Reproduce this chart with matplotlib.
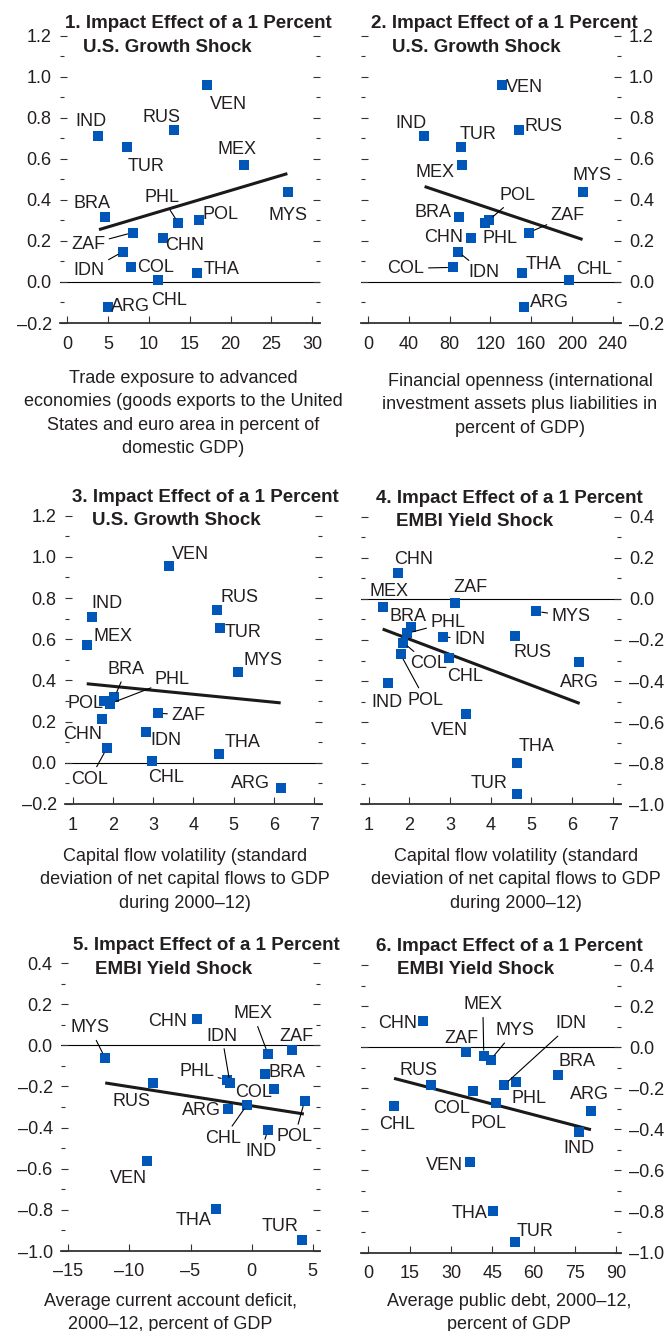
import numpy as np
import matplotlib
matplotlib.use("Agg")
import matplotlib.pyplot as plt
from matplotlib.ticker import MultipleLocator, FuncFormatter

plt.rcParams["font.family"] = ["Liberation Sans", "DejaVu Sans"]

TXT = "#231f20"
BLUE = "#0057b8"
W, H = 668, 1331
FS = 13

# ---- data ----
countries = ["ARG", "BRA", "CHL", "CHN", "COL", "IDN", "IND", "MEX",
             "MYS", "PHL", "POL", "RUS", "THA", "TUR", "VEN", "ZAF"]

growth_impact = [-0.120, 0.318, 0.011, 0.212, 0.071, 0.148, 0.710, 0.570,
                 0.439, 0.288, 0.300, 0.740, 0.043, 0.657, 0.958, 0.241]
embi_impact = [-0.309, -0.138, -0.288, 0.127, -0.213, -0.184, -0.411, -0.042,
               -0.061, -0.168, -0.270, -0.182, -0.798, -0.948, -0.561, -0.022]

trade_exposure = [4.97, 4.65, 11.13, 11.7, 7.83, 6.85, 3.75, 21.65,
                  27.0, 13.6, 16.2, 13.05, 15.94, 7.34, 17.1, 8.07]
fin_openness = [153, 88.7, 196.8, 100.5, 83.2, 88, 54.7, 92,
                210.5, 114.3, 118.2, 148, 151, 91, 131, 157.8]
cap_flow_vol = [6.18, 2.04, 2.97, 1.72, 1.85, 2.82, 1.47, 1.35,
                5.12, 1.94, 1.78, 4.59, 4.64, 4.65, 3.40, 3.11]
ca_deficit = [-1.96, 1.09, -0.35, -4.47, 1.83, -1.77, 1.34, 1.34,
              -12.0, -2.05, 4.34, -8.10, -2.95, 4.15, -8.59, 3.30]
public_debt = [80.8, 68.9, 9.3, 19.9, 38.0, 49.3, 76.5, 41.9,
               44.4, 53.6, 46.2, 22.8, 45.4, 53.1, 36.8, 35.5]

# fitted lines (end points)
fit1_x, fit1_y = [3.91, 26.95], [0.255, 0.528]
fit2_x, fit2_y = [55.3, 210.5], [0.465, 0.207]
fit3_x, fit3_y = [1.35, 6.17], [0.384, 0.291]
fit4_x, fit4_y = [1.34, 6.19], [-0.147, -0.509]
fit5_x, fit5_y = [-11.98, 4.28], [-0.183, -0.334]
fit6_x, fit6_y = [9.3, 80.8], [-0.152, -0.402]

xticks1 = [0, 5, 10, 15, 20, 25, 30]
xticks2 = [0, 40, 80, 120, 160, 200, 240]
xticks3 = [1, 2, 3, 4, 5, 6, 7]
xticks5 = [-15, -10, -5, 0, 5]
xticks6 = [0, 15, 30, 45, 60, 75, 90]

titles = [("1. Impact Effect of a 1 Percent", "U.S. Growth Shock"),
          ("2. Impact Effect of a 1 Percent", "U.S. Growth Shock"),
          ("3. Impact Effect of a 1 Percent", "U.S. Growth Shock"),
          ("4. Impact Effect of a 1 Percent", "EMBI Yield Shock"),
          ("5. Impact Effect of a 1 Percent", "EMBI Yield Shock"),
          ("6. Impact Effect of a 1 Percent", "EMBI Yield Shock")]

xlabels = [["Trade exposure to advanced",
            "economies (goods exports to the United",
            "States and euro area in percent of",
            "domestic GDP)"],
           ["Financial openness (international",
            "investment assets plus liabilities in",
            "percent of GDP)"],
           ["Capital flow volatility (standard",
            "deviation of net capital flows to GDP",
            "during 2000\u201312)"],
           ["Capital flow volatility (standard",
            "deviation of net capital flows to GDP",
            "during 2000\u201312)"],
           ["Average current account deficit,",
            "2000\u201312, percent of GDP"],
           ["Average public debt, 2000\u201312,",
            "percent of GDP"]]

# ---- label placement (pixel offsets from the marker) ----
off1 = {"IND": (-7, 15), "RUS": (-12, 13), "VEN": (22, -19), "TUR": (19, -19),
        "MEX": (-7, 15), "MYS": (0, -24), "BRA": (-13, 13), "PHL": (-16, 25),
        "POL": (21, 6), "ZAF": (-45, -12), "CHN": (22, -7), "IDN": (-34, -19),
        "COL": (25, 0), "THA": (24, 4), "CHL": (11, -21), "ARG": (23, 0)}
lead1 = {"PHL", "ZAF", "IDN"}
off2 = {"VEN": (23, -2), "RUS": (25, 4), "IND": (-13, 13), "TUR": (17, 13),
        "MEX": (-27, -8), "MYS": (9, 16), "BRA": (-26, 4), "POL": (29, 25),
        "PHL": (15, -16), "ZAF": (39, 17), "CHN": (-27, 1), "IDN": (26, -21),
        "COL": (-47, -1), "THA": (22, 9), "CHL": (25, 10), "ARG": (25, 4)}
lead2 = {"POL", "ZAF", "IDN", "COL"}
off3 = {"VEN": (21, 11), "RUS": (22, 13), "IND": (15, 13), "TUR": (24, -5),
        "MEX": (26, 9), "MYS": (25, 12), "BRA": (12, 28), "PHL": (62, 24),
        "POL": (-19, -2), "CHN": (-19, -15), "ZAF": (31, -2), "IDN": (20, -8),
        "COL": (-17, -31), "CHL": (14, -17), "THA": (23, 11), "ARG": (-31, 4)}
lead3 = {"BRA", "PHL", "ZAF", "COL"}
off4 = {"CHN": (16, 13), "MEX": (6, 16), "ZAF": (16, 16), "MYS": (35, -5),
        "BRA": (-3, 11), "PHL": (41, 11), "IDN": (27, -3), "RUS": (18, -16),
        "COL": (25, -21), "POL": (25, -46), "CHL": (16, -18), "ARG": (0, -20),
        "IND": (-1, -19), "VEN": (-17, -16), "THA": (20, 16), "TUR": (-28, 10)}
lead4 = {"MYS", "PHL", "IDN", "COL", "POL"}
off5 = {"MYS": (-15, 30), "CHN": (-29, -2), "MEX": (-15, 40), "ZAF": (5, 13),
        "IDN": (-8, 47), "PHL": (-30, 8), "BRA": (22, 1), "COL": (-20, -3),
        "RUS": (-21, -19), "ARG": (-26, -2), "CHL": (-24, -34), "POL": (-10, -36),
        "IND": (-7, -22), "VEN": (-18, -18), "THA": (-22, -11), "TUR": (-22, 14)}
lead5 = {"MYS", "MEX", "IDN", "PHL", "CHL", "POL", "IND"}
off6 = {"CHN": (-26, -2), "ZAF": (-5, 13), "MEX": (-1, 51), "MYS": (24, 29),
        "IDN": (67, 61), "BRA": (19, 14), "RUS": (-13, 14), "PHL": (13, -17),
        "COL": (-22, -18), "POL": (-7, -21), "CHL": (3, -18), "ARG": (-1, 16),
        "IND": (0, -17), "VEN": (-25, -3), "THA": (-24, -2), "TUR": (20, 10)}
lead6 = {"MEX", "MYS", "IDN"}

panels = [
    dict(x=trade_exposure, y=growth_impact, fx=fit1_x, fy=fit1_y, xt=xticks1,
         rect=(60, 320, 35.7, 323), xlim=(-0.86, 30.94), ylim=(-0.2, 1.2),
         side="left", off=off1, lead=lead1, tpos=(65, 28.5, 83, 52.5), xl=(183, 383)),
    dict(x=fin_openness, y=growth_impact, fx=fit2_x, fy=fit2_y, xt=xticks2,
         rect=(360.7, 620.7, 35.7, 323), xlim=(-7.5, 248), ylim=(-0.2, 1.2),
         side="right", off=off2, lead=lead2, tpos=(371, 28.5, 392, 52.5), xl=(520, 386)),
    dict(x=cap_flow_vol, y=growth_impact, fx=fit3_x, fy=fit3_y, xt=xticks3,
         rect=(65, 321.7, 515.7, 804), xlim=(0.81, 7.19), ylim=(-0.2, 1.2),
         side="left", off=off3, lead=lead3, tpos=(72, 501.7, 92, 525), xl=(185, 861)),
    dict(x=cap_flow_vol, y=embi_impact, fx=fit4_x, fy=fit4_y, xt=xticks3,
         rect=(360.7, 620.7, 516.7, 804.3), xlim=(0.8, 7.2), ylim=(-1.0, 0.4),
         side="right", off=off4, lead=lead4, tpos=(376, 502.7, 396, 526), xl=(516, 861)),
    dict(x=ca_deficit, y=embi_impact, fx=fit5_x, fy=fit5_y, xt=xticks5,
         rect=(61, 320, 963, 1251), xlim=(-15.6, 5.6), ylim=(-1.0, 0.4),
         side="left", off=off5, lead=lead5, tpos=(73, 950, 95, 974), xl=(170, 1306)),
    dict(x=public_debt, y=embi_impact, fx=fit6_x, fy=fit6_y, xt=xticks6,
         rect=(360.7, 620.7, 965, 1252.5), xlim=(-2.8, 91.6), ylim=(-1.0, 0.4),
         side="right", off=off6, lead=lead6, tpos=(376, 950.7, 397, 974), xl=(509, 1306)),
]


def yfmt(v, pos):
    if abs(v) < 1e-9:
        return "0.0"
    return ("\u2013" if v < 0 else "") + f"{abs(v):.1f}"


def xfmt(v, pos):
    if abs(v) < 1e-9:
        return "0"
    return ("\u2013" if v < 0 else "") + f"{abs(v):g}"


fig = plt.figure(figsize=(W / 100, H / 100), dpi=100, facecolor="white")

for i, p in enumerate(panels):
    l, r, t, b = p["rect"]
    ax = fig.add_axes([l / W, 1 - b / H, (r - l) / W, (b - t) / H])
    ax.set_facecolor("none")
    ax.set_xlim(*p["xlim"])
    ax.set_ylim(*p["ylim"])

    ax.axhline(0, color="black", lw=0.8, zorder=1)
    ax.plot(p["fx"], p["fy"], color="#1a1a1a", lw=2.2, solid_capstyle="butt", zorder=2)
    ax.scatter(p["x"], p["y"], marker="s", s=54, color=BLUE, linewidths=0, zorder=3)

    for name, xv, yv in zip(countries, p["x"], p["y"]):
        dx, dy = p["off"][name]
        arrow = None
        if name in p["lead"]:
            arrow = dict(arrowstyle="-", lw=0.8, color="black", shrinkA=1, shrinkB=4)
        ax.annotate(name, (xv, yv), xytext=(dx, dy), textcoords="offset pixels",
                    ha="center", va="center", fontsize=FS, color=TXT,
                    arrowprops=arrow, zorder=4, annotation_clip=False)

    y0, y1 = p["ylim"]
    ax.set_yticks(np.round(np.arange(y0, y1 + 0.001, 0.2), 2))
    ax.yaxis.set_minor_locator(MultipleLocator(0.1))
    ax.yaxis.set_major_formatter(FuncFormatter(yfmt))
    ax.set_xticks(p["xt"])
    ax.xaxis.set_major_formatter(FuncFormatter(xfmt))

    left_lab = p["side"] == "left"
    ax.tick_params(axis="y", which="both", direction="in", left=True, right=True,
                   labelleft=left_lab, labelright=not left_lab, color="#333333",
                   width=0.8, labelsize=FS, labelcolor=TXT, pad=6)
    ax.tick_params(axis="y", which="major", length=5)
    ax.tick_params(axis="y", which="minor", length=3)
    ax.tick_params(axis="x", direction="in", length=5, width=0.8, color="#333333",
                   labelsize=FS, labelcolor=TXT, pad=9, top=False)

    for s in ("left", "right", "top"):
        ax.spines[s].set_visible(False)
    ax.spines["bottom"].set_color("#333333")
    ax.spines["bottom"].set_linewidth(1.3)

    # title, second line indented
    t1, t2 = titles[i]
    x1, b1, x2, b2 = p["tpos"]
    fig.text(x1 / W, 1 - b1 / H, t1, ha="left", va="baseline", fontsize=13.5,
             fontweight="bold", color=TXT)
    fig.text(x2 / W, 1 - b2 / H, t2, ha="left", va="baseline", fontsize=13.5,
             fontweight="bold", color=TXT)

    # x-axis caption below
    cx, cy = p["xl"]
    for k, line in enumerate(xlabels[i]):
        fig.text(cx / W, 1 - (cy + 23.3 * k) / H, line, ha="center", va="baseline",
                 fontsize=FS, color=TXT)

fig.savefig("out.png", dpi=100, facecolor="white")
